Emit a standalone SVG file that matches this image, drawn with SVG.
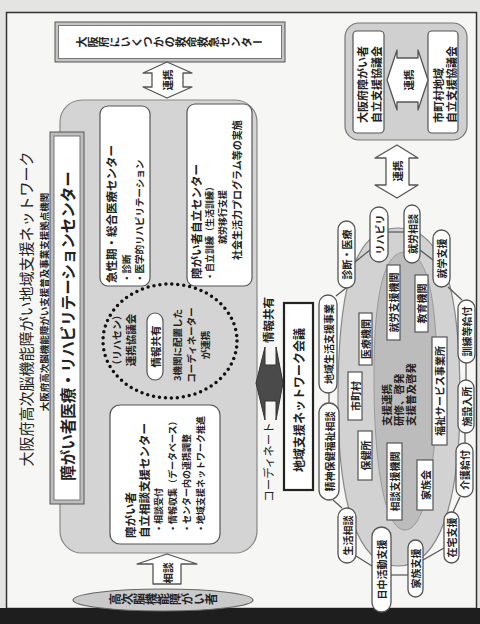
<svg xmlns="http://www.w3.org/2000/svg" width="480" height="624" viewBox="0 0 480 624">
<style>
.t{font-family:"Noto Sans CJK JP","Noto Sans CJK SC",sans-serif;fill:#222;font-weight:bold}
.n{font-weight:normal}
.r{text-anchor:middle;dominant-baseline:central}
.s{text-anchor:start;dominant-baseline:central}
.v{writing-mode:vertical-rl;text-anchor:middle}
.pill{fill:#fff;stroke:#555;stroke-width:1.3}
.box{fill:#fff;stroke:#555;stroke-width:1.2}
.ln{stroke:#555;stroke-width:1.2;fill:none}
.arr{fill:#fff;stroke:#555;stroke-width:1.3;stroke-linejoin:round}
</style>
<rect width="480" height="624" fill="#e4e4e2"/>
<rect x="6.5" y="12.5" width="470" height="596" fill="#f6f6f4" stroke="#333" stroke-width="1.5"/>
<rect x="0" y="608" width="480" height="16" fill="#1e1e1e"/>

<g id="title">
<text class="t n r" font-size="15" transform="translate(25,309) rotate(-90)">大阪府高次脳機能障がい地域支援ネットワーク</text>
<text class="t r" font-size="9.5" transform="translate(44,302) rotate(-90)">大阪府高次脳機能障がい支援普及事業支援拠点機関</text>
</g>

<g id="rehab-center">
<rect x="60" y="100" width="197" height="453" rx="22" fill="#d4d4d4" stroke="#888" stroke-width="1.2"/>
<rect x="50" y="132" width="34" height="372" fill="#bdbdbd" stroke="#555"/>
<rect x="54" y="136" width="26" height="364" fill="#fff" stroke="#777"/>
<text class="t r" font-size="15.5" transform="translate(67,326) rotate(-90)">障がい者医療・リハビリテーションセンター</text>
</g>

<g id="acute">
<rect class="box" x="100" y="106" width="50" height="180" rx="8"/>
<text class="t s" font-size="11.5" transform="translate(111,283) rotate(-90)">急性期・総合医療センター</text>
<text class="t s" font-size="9.5" transform="translate(126,283) rotate(-90)">・診断</text>
<text class="t s" font-size="9.5" transform="translate(139,283) rotate(-90)">・医学的リハビリテーション</text>
</g>

<g id="independence">
<rect class="box" x="187" y="104" width="65" height="182" rx="8"/>
<text class="t s" font-size="11.5" transform="translate(196,279) rotate(-90)">障がい者自立センター</text>
<text class="t s" font-size="9" transform="translate(209,281) rotate(-90)">・自立訓練（生活訓練）</text>
<text class="t s" font-size="9" transform="translate(222,244) rotate(-90)">就労移行支援</text>
<text class="t s" font-size="10" transform="translate(236,260) rotate(-90)">社会生活力プログラム等の実施</text>
</g>

<g id="council">
<ellipse cx="170" cy="341" rx="67" ry="57" fill="none" stroke="#111" stroke-width="3.5" stroke-linecap="round" stroke-dasharray="0 6"/>
<text class="t r" font-size="10" transform="translate(116,340) rotate(-90)">（リハセン）</text>
<text class="t r" font-size="10.5" transform="translate(130,340) rotate(-90)">連携協議会</text>
<rect class="box" x="147" y="313" width="16" height="67" rx="8"/>
<text class="t r" font-size="10.5" transform="translate(155,346.5) rotate(-90)">情報共有</text>
<text class="t r" font-size="9.5" transform="translate(177,345) rotate(-90)">3機関に配置した</text>
<text class="t r" font-size="9.5" transform="translate(191,345) rotate(-90)">コーディネーター</text>
<text class="t r" font-size="9.5" transform="translate(205,345) rotate(-90)">が連携</text>
</g>

<g id="consult-center">
<rect class="box" x="110" y="405" width="110" height="139" rx="10"/>
<text class="t s" font-size="11.5" transform="translate(130,538) rotate(-90)">障がい者</text>
<text class="t s" font-size="11.5" transform="translate(144,538) rotate(-90)">自立相談支援センター</text>
<text class="t s" font-size="9" transform="translate(158,533) rotate(-90)">・相談受付</text>
<text class="t s" font-size="9" transform="translate(172,533) rotate(-90)">・情報収集（データベース）</text>
<text class="t s" font-size="9" transform="translate(186,533) rotate(-90)">・センター内の連携調整</text>
<text class="t s" font-size="9" transform="translate(200,533) rotate(-90)">・地域支援ネットワーク推進</text>
</g>

<g id="emergency">
<rect x="55" y="22" width="230" height="40" fill="#c4c4c4" stroke="#555"/>
<rect x="58.5" y="25.5" width="223" height="33" fill="#fff" stroke="#777"/>
<text class="t v" font-size="11" transform="translate(170,42) rotate(-90)">大阪府にいくつかの救命救急センター</text>
</g>

<g id="patient">
<ellipse cx="163" cy="600" rx="90" ry="11" fill="#cacaca" stroke="#666" stroke-width="1.2"/>
<text class="t v" font-size="12" transform="translate(163,599) rotate(-90)">高次脳機能障がい者</text>
</g>

<g id="network-meeting">
<rect x="284" y="303" width="29" height="187" fill="#fff" stroke="#222" stroke-width="2.2"/>
<text class="t r" font-size="12" transform="translate(298.5,400) rotate(-90)">地域支援ネットワーク会議</text>
</g>

<g id="councils">
<rect x="345" y="23" width="122" height="117" rx="14" fill="#d0d0d0" stroke="#777" stroke-width="1.2"/>
<rect class="box" x="353" y="31" width="31" height="102" rx="4"/>
<rect class="box" x="428" y="31" width="30" height="102" rx="4"/>
<text class="t s" font-size="11" transform="translate(362,123) rotate(-90)">大阪府障がい者</text>
<text class="t s" font-size="11" transform="translate(376,123) rotate(-90)">自立支援協議会</text>
<text class="t s" font-size="11" transform="translate(438,123) rotate(-90)">市町村地域</text>
<text class="t s" font-size="11" transform="translate(451,123) rotate(-90)">自立支援協議会</text>
</g>

<g id="community">
<path d="M398,228 C447,228 460,300 460,400 C460,500 440,566 398,566 C356,566 338,500 338,400 C338,300 350,228 398,228 Z" fill="#d2d2d2" stroke="#888" stroke-width="1.2"/>
<path d="M405,252 C430,252 437,310 437,380 C437,450 428,530 405,530 C382,530 374,450 374,380 C374,310 380,252 405,252 Z" fill="#bcbcbc" stroke="#999" stroke-width="1"/>
<text class="t s" font-size="10.5" transform="translate(386,426) rotate(-90)">支援連携</text>
<text class="t s" font-size="10.5" transform="translate(398,426) rotate(-90)">研修、啓発</text>
<text class="t s" font-size="10.5" transform="translate(410,426) rotate(-90)">支援普及啓発</text>
</g>

<g id="inner-boxes">
<rect class="box" x="359" y="313" width="13" height="52"/>
<text class="t r" font-size="10" transform="translate(365.5,339) rotate(-90)">医療機関</text>
<rect class="box" x="387" y="265" width="13" height="75"/>
<text class="t r" font-size="10" transform="translate(393.5,302.5) rotate(-90)">就労支援機関</text>
<rect class="box" x="415" y="275" width="13" height="57"/>
<text class="t r" font-size="10" transform="translate(421.5,303.5) rotate(-90)">教育機関</text>
<rect class="box" x="348" y="372" width="14" height="48"/>
<text class="t r" font-size="10" transform="translate(355,396) rotate(-90)">市町村</text>
<rect class="box" x="432" y="337" width="15" height="108"/>
<text class="t r" font-size="10" transform="translate(439.5,391) rotate(-90)">福祉サービス事業所</text>
<rect class="box" x="358" y="431" width="14" height="49"/>
<text class="t r" font-size="10" transform="translate(365,455.5) rotate(-90)">保健所</text>
<rect class="box" x="387" y="443" width="15" height="77"/>
<text class="t r" font-size="10" transform="translate(394.5,481.5) rotate(-90)">相談支援機関</text>
<rect class="box" x="417" y="460" width="16" height="50"/>
<text class="t r" font-size="10" transform="translate(425,485) rotate(-90)">家族会</text>
</g>

<g id="connectors">
<polygon class="arr" points="167,62 192,73 183,73 183,87 192,87 167,98 143,87 152,87 152,73 143,73"/>
<polygon class="arr" points="167,554 197,564 181,564 181,584 153,584 153,564 137,564"/>
<polygon class="arr" points="397,145 418,158 409,158 409,185 418,185 397,198 375,185 386,185 386,158 375,158"/>
<polygon class="arr" points="387,80 397,50 397,58 418,58 418,50 428,80 418,110 418,102 397,102 397,110"/>
<polygon points="256,383 265,347 265,365 276,365 276,347 283,383 276,420 276,401 265,401 265,420" fill="#4a4a4a" stroke="#333" stroke-width="1" stroke-linejoin="round"/>
<line class="ln" x1="355" y1="262" x2="370" y2="250"/>
<line class="ln" x1="388" y1="232" x2="404" y2="232"/>
<line class="ln" x1="420" y1="250" x2="433" y2="260"/>
<line class="ln" x1="346" y1="288" x2="336" y2="296"/>
<line class="ln" x1="448" y1="287" x2="462" y2="300"/>
<line class="ln" x1="329" y1="393" x2="329" y2="403"/>
<line class="ln" x1="466" y1="363" x2="466" y2="380"/>
<line class="ln" x1="465" y1="433" x2="465" y2="443"/>
<line class="ln" x1="460" y1="497" x2="453" y2="512"/>
<line class="ln" x1="333" y1="500" x2="342" y2="508"/>
<line class="ln" x1="356" y1="556" x2="372" y2="566"/>
<line class="ln" x1="391" y1="575" x2="408" y2="575"/>
<line class="ln" x1="423" y1="560" x2="444" y2="548"/>
<text class="t r" font-size="10.5" transform="translate(167,80) rotate(-90)">連携</text>
<text class="t r" font-size="10.5" transform="translate(167,573) rotate(-90)">相談</text>
<text class="t r" font-size="10.5" transform="translate(397,171) rotate(-90)">連携</text>
<text class="t r" font-size="10.5" transform="translate(408,80) rotate(-90)">連携</text>
<text class="t r" font-size="11.5" transform="translate(268,320) rotate(-90)">情報共有</text>
<text class="t n r" font-size="11.5" transform="translate(268,462) rotate(-90)">コーディネート</text>
</g>

<g id="pills">
<rect class="pill" x="338" y="221" width="17" height="67" rx="8.5"/>
<text class="t r" font-size="10" transform="translate(346.5,254.5) rotate(-90)">診断・医療</text>
<rect class="pill" x="370" y="207" width="18" height="55" rx="9"/>
<text class="t r" font-size="10" transform="translate(379,234.5) rotate(-90)">リハビリ</text>
<rect class="pill" x="404" y="205" width="16" height="58" rx="8"/>
<text class="t r" font-size="10" transform="translate(412,234) rotate(-90)">就労相談</text>
<rect class="pill" x="433" y="230" width="17" height="57" rx="8.5"/>
<text class="t r" font-size="10" transform="translate(441.5,258.5) rotate(-90)">就学支援</text>
<rect class="pill" x="319" y="295" width="18" height="98" rx="9"/>
<text class="t r" font-size="10" transform="translate(328,344) rotate(-90)">地域生活支援事業</text>
<rect class="pill" x="319" y="403" width="20" height="97" rx="10"/>
<text class="t r" font-size="10" transform="translate(329,451.5) rotate(-90)">精神保健福祉相談</text>
<rect class="pill" x="338" y="508" width="18" height="55" rx="9"/>
<text class="t r" font-size="10" transform="translate(347,535.5) rotate(-90)">生活相談</text>
<rect class="pill" x="372" y="527" width="19" height="85" rx="9.5"/>
<text class="t r" font-size="10" transform="translate(381.5,569.5) rotate(-90)">日中活動支援</text>
<rect class="pill" x="408" y="540" width="15" height="57" rx="7.5"/>
<text class="t r" font-size="10" transform="translate(415.5,568.5) rotate(-90)">家族支援</text>
<rect class="pill" x="444" y="512" width="15" height="51" rx="7.5"/>
<text class="t r" font-size="10" transform="translate(451.5,537.5) rotate(-90)">在宅支援</text>
<rect class="pill" x="456" y="443" width="17" height="54" rx="8.5"/>
<text class="t r" font-size="10" transform="translate(464.5,470) rotate(-90)">介護給付</text>
<rect class="pill" x="458" y="380" width="16" height="53" rx="8"/>
<text class="t r" font-size="10" transform="translate(466,406.5) rotate(-90)">施設入所</text>
<rect class="pill" x="458" y="300" width="17" height="63" rx="8.5"/>
<text class="t r" font-size="10" transform="translate(466.5,331.5) rotate(-90)">訓練等給付</text>
</g>
</svg>
